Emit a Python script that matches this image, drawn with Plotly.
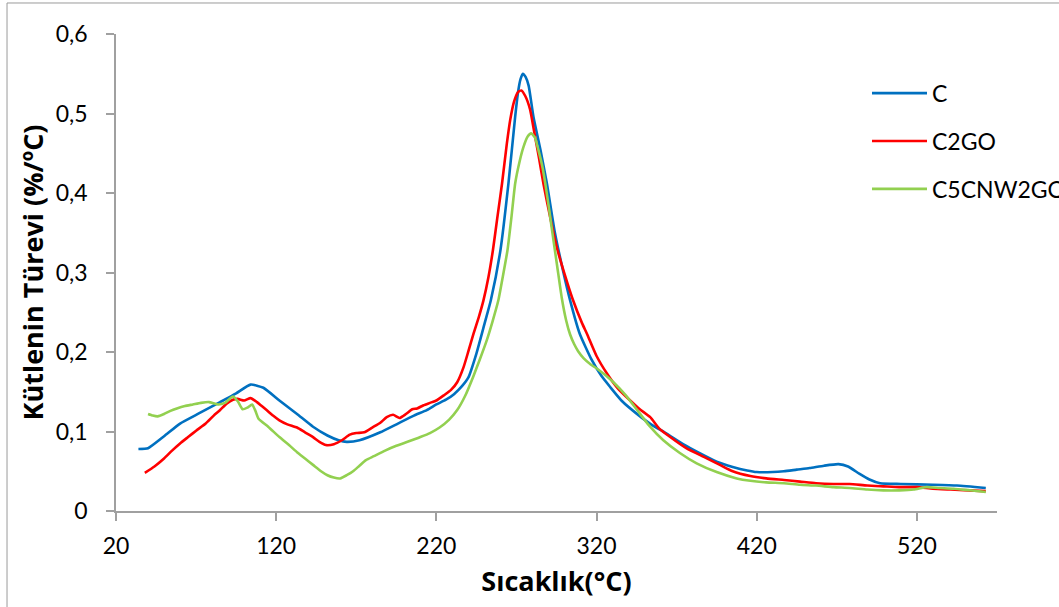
import plotly.graph_objects as go

# Sample C
c_x = [34, 40, 50, 60, 72, 85, 95, 104, 112, 122, 133, 143, 152, 159, 164, 172, 185, 196, 206, 214, 220, 226, 231, 236, 240, 245, 250, 254, 260, 265, 269.2, 271, 272.5, 274, 275.7, 277.6, 280.6, 285, 289, 294, 299, 303.5, 309.5, 317, 323, 328.5, 336, 345, 354, 364, 374, 385, 395, 405, 414, 420, 430, 437, 445, 453, 462, 471, 477, 484, 490, 497, 510, 530, 545, 563]
c_y = [0.078, 0.079, 0.094, 0.110, 0.123, 0.137, 0.148, 0.159, 0.155, 0.139, 0.122, 0.106, 0.095, 0.089, 0.087, 0.089, 0.099, 0.110, 0.120, 0.127, 0.134, 0.140, 0.147, 0.157, 0.168, 0.198, 0.235, 0.265, 0.328, 0.412, 0.496, 0.527, 0.543, 0.550, 0.546, 0.535, 0.496, 0.454, 0.412, 0.350, 0.303, 0.265, 0.223, 0.190, 0.170, 0.156, 0.138, 0.1225, 0.109, 0.097, 0.084, 0.072, 0.062, 0.0555, 0.051, 0.049, 0.049, 0.050, 0.052, 0.054, 0.057, 0.059, 0.056, 0.047, 0.040, 0.035, 0.034, 0.033, 0.032, 0.029]

# Sample C2GO
c2go_x = [38, 44, 50, 55, 60, 65, 70, 76, 81, 85, 89, 93, 96, 100, 104, 108, 111, 114, 118, 122, 127, 133, 138, 143, 147, 151, 156, 161, 166, 170, 175, 180, 185, 189, 193, 197, 201, 205, 208, 212, 216, 220, 225, 229, 233, 237, 240, 243.2, 246.5, 249.4, 252.5, 255.3, 258, 261, 264, 266.1, 268.5, 271, 273, 275.5, 278.5, 281, 284, 287, 291, 295, 300.5, 305, 311, 314, 320, 326.5, 333, 341, 347, 353.5, 359, 366, 376, 387, 397, 405, 416, 426, 437, 447, 457, 468, 478, 489, 499, 509, 520, 530, 541, 552, 563]
c2go_y = [0.048, 0.056, 0.066, 0.076, 0.085, 0.093, 0.101, 0.110, 0.120, 0.127, 0.135, 0.140, 0.141, 0.139, 0.142, 0.137, 0.132, 0.127, 0.120, 0.114, 0.109, 0.105, 0.099, 0.093, 0.087, 0.083, 0.084, 0.089, 0.096, 0.098, 0.099, 0.105, 0.111, 0.118, 0.121, 0.117, 0.122, 0.128, 0.129, 0.133, 0.136, 0.139, 0.146, 0.152, 0.162, 0.181, 0.201, 0.223, 0.244, 0.265, 0.294, 0.328, 0.368, 0.412, 0.462, 0.492, 0.515, 0.527, 0.529, 0.522, 0.505, 0.478, 0.445, 0.410, 0.370, 0.333, 0.295, 0.267, 0.236, 0.223, 0.195, 0.173, 0.155, 0.139, 0.128, 0.118, 0.104, 0.093, 0.079, 0.068, 0.058, 0.050, 0.044, 0.041, 0.039, 0.037, 0.035, 0.034, 0.034, 0.032, 0.031, 0.030, 0.030, 0.028, 0.027, 0.026, 0.025]

# Sample C5CNW2GO
c5_x = [40, 43, 46, 50, 54, 58, 63, 68, 73, 78, 84, 88, 93, 96, 99, 102, 105, 107, 109, 115, 122, 128, 133, 138, 143, 148, 152, 156, 160, 164, 168, 172, 176, 181, 188, 195, 202, 210, 216, 222, 228, 233, 238, 243, 247, 251.5, 255, 258.7, 261.5, 264.4, 267, 269.2, 272, 274.4, 277, 279.2, 281.5, 283.7, 286, 288, 290.5, 293, 295.5, 298.3, 301, 303.5, 306, 308.5, 312, 316, 321, 326, 331, 338, 345, 353, 361.7, 372, 382.5, 395, 407.5, 416, 426, 437, 447, 457, 468, 478, 489, 499, 509, 518, 526, 534, 543, 553, 563]
c5_y = [0.122, 0.120, 0.119, 0.122, 0.126, 0.129, 0.132, 0.134, 0.136, 0.137, 0.134, 0.136, 0.144, 0.138, 0.128, 0.130, 0.134, 0.126, 0.116, 0.106, 0.093, 0.083, 0.074, 0.066, 0.058, 0.050, 0.045, 0.042, 0.041, 0.045, 0.050, 0.057, 0.064, 0.069, 0.076, 0.082, 0.087, 0.093, 0.098, 0.105, 0.115, 0.127, 0.145, 0.169, 0.190, 0.215, 0.238, 0.265, 0.295, 0.328, 0.372, 0.412, 0.440, 0.458, 0.471, 0.475, 0.470, 0.454, 0.435, 0.412, 0.378, 0.342, 0.307, 0.268, 0.240, 0.222, 0.210, 0.201, 0.192, 0.185, 0.178, 0.170, 0.161, 0.146, 0.128, 0.107, 0.089, 0.073, 0.060, 0.049, 0.041, 0.038, 0.036, 0.035, 0.033, 0.032, 0.030, 0.029, 0.027, 0.026, 0.026, 0.027, 0.030, 0.029, 0.028, 0.026, 0.024]

names = ["C", "C2GO", "C5CNW2GO"]
colors = ["#0070C0", "#FF0000", "#92D050"]
series = [(c_x, c_y), (c2go_x, c2go_y), (c5_x, c5_y)]

x_ticks = [20, 120, 220, 320, 420, 520]
y_ticks = [0, 0.1, 0.2, 0.3, 0.4, 0.5, 0.6]

FONT = "Lato, 'Liberation Sans', sans-serif"
TITLE_FONT = "'Open Sans', Lato, sans-serif"

fig = go.Figure()
for (xs, ys), name, col in zip(series, names, colors):
    fig.add_trace(go.Scatter(
        x=xs, y=ys, name=name, mode="lines", legendgroup=name,
        line=dict(color=col, width=2.6, shape="spline", smoothing=0.5),
    ))

axis_col = "#A0A0A0"
fig.update_layout(
    width=1059, height=607,
    margin=dict(l=116, r=62, t=34, b=96, autoexpand=False),
    paper_bgcolor="white", plot_bgcolor="white",
    separators=", ",
    font=dict(family=FONT, size=23, color="black"),
    showlegend=True,
    legend=dict(
        xref="container", yref="container",
        x=0.8187, y=0.882, xanchor="left", yanchor="top",
        font=dict(family=FONT, size=23, color="black"),
        traceorder="grouped", tracegroupgap=15,
        bgcolor="rgba(0,0,0,0)", itemwidth=55,
    ),
    xaxis=dict(
        range=[20, 570], tickvals=x_ticks, ticktext=[str(v) for v in x_ticks],
        showgrid=False, zeroline=False, showline=True, linecolor=axis_col, linewidth=1.5,
        ticks="outside", ticklen=8, tickcolor=axis_col, tickwidth=1.5,
        tickfont=dict(size=23), ticklabelstandoff=6,
        title=dict(text="<b>Sıcaklık(°C)</b>", font=dict(family=TITLE_FONT, size=27), standoff=14),
    ),
    yaxis=dict(
        range=[0, 0.6], tickvals=y_ticks,
        showgrid=False, zeroline=False, showline=True, linecolor=axis_col, linewidth=1.5,
        ticks="outside", ticklen=8, tickcolor=axis_col, tickwidth=1.5,
        tickfont=dict(size=23), ticklabelstandoff=14,
        title=dict(text="<b>Kütlenin Türevi (%/ºC)</b>", font=dict(family=TITLE_FONT, size=27), standoff=4),
    ),
    shapes=[dict(
        type="rect", xref="paper", yref="paper",
        x0=-0.1237, x1=1.2, y0=-0.3, y1=1.065,
        line=dict(color="#9A9A9A", width=1), fillcolor="rgba(0,0,0,0)", layer="below",
    )],
)

fig.write_html("out.html", config={"displayModeBar": False},
               post_script="document.body.style.margin='0';document.body.style.overflow='hidden';")
